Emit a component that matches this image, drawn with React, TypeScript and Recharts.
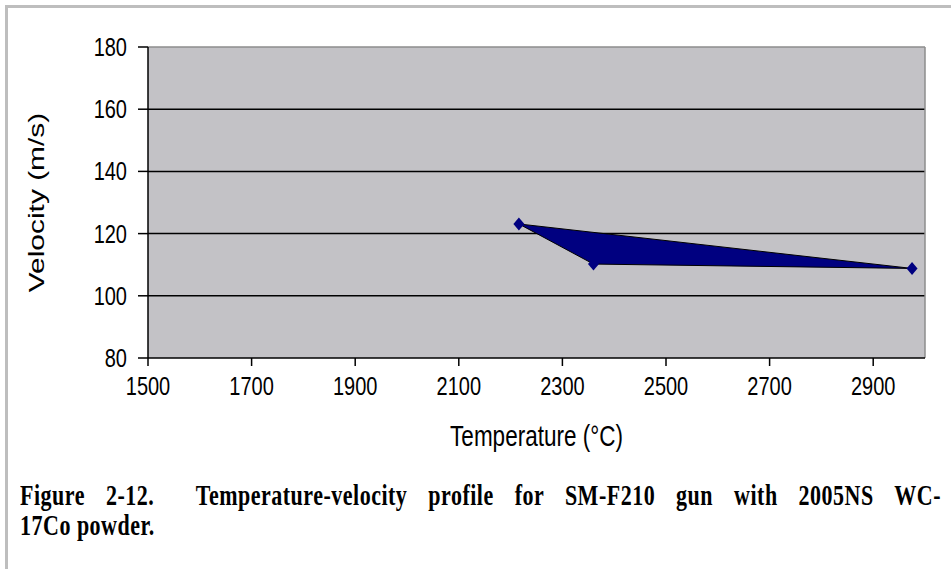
import {
  CartesianGrid,
  Polygon,
  ReferenceLine,
  Scatter,
  ScatterChart,
  XAxis,
  YAxis,
} from 'recharts';

const temperatures = [2216, 2360, 2975];
const velocities = [123.1, 110.2, 108.8];
const xTicks = [1500, 1700, 1900, 2100, 2300, 2500, 2700, 2900];
const yTicks = [80, 100, 120, 140, 160, 180];
const gridValues = [100, 120, 140, 160];

const data = temperatures.map((t, i) => ({ t, v: velocities[i] }));

const sans = '"Liberation Sans", Arial, sans-serif';
const serif = '"Liberation Serif", "Times New Roman", serif';
const navy = '#000080';
// the source picture is stretched vertically, so text is drawn taller than wide
const stretch = 1.33;

const XTick = ({ x, y, payload }: any) => (
  <text transform={`translate(${x},${y + 29}) scale(1,${stretch})`} textAnchor="middle" fontSize={20} fontFamily={sans} fill="#000">
    {payload.value}
  </text>
);

const YTick = ({ x, y, payload }: any) => (
  <text transform={`translate(${x},${y + 9}) scale(1,${stretch})`} textAnchor="end" fontSize={20} fontFamily={sans} fill="#000">
    {payload.value}
  </text>
);

const XTitle = ({ viewBox }: any) => {
  const vb = viewBox ?? { x: 148, y: 358, width: 777, height: 90 };
  return (
    <text
      transform={`translate(${vb.x + vb.width / 2},${vb.y + 88}) scale(1,${stretch})`}
      textAnchor="middle"
      fontSize={22.5}
      fontFamily={sans}
      fill="#000"
    >
      Temperature (°C)
    </text>
  );
};

const YTitle = ({ viewBox }: any) => {
  const vb = viewBox ?? { x: 88, y: 47, width: 60, height: 311 };
  const cx = vb.x - 44;
  const cy = vb.y + vb.height / 2;
  return (
    <text
      transform={`translate(${cx},${cy}) scale(1,${stretch}) rotate(-90)`}
      textAnchor="middle"
      fontSize={22.5}
      fontFamily={sans}
      fill="#000"
    >
      Velocity (m/s)
    </text>
  );
};

// Excel style diamond marker
const Diamond = ({ cx, cy }: any) => (
  <path d={`M${cx},${cy - 6.5}L${cx + 5.5},${cy}L${cx},${cy + 6.5}L${cx - 5.5},${cy}Z`} fill={navy} />
);

const captionBase: React.CSSProperties = {
  position: 'absolute',
  left: 20,
  width: 921,
  fontFamily: serif,
  fontWeight: 'bold',
  fontSize: 22,
  letterSpacing: 0.5,
  lineHeight: '22px',
  whiteSpace: 'pre-wrap',
  transform: `scaleY(${stretch})`,
  transformOrigin: 'top left',
  color: '#000',
};

export default function App() {
  return (
    <div style={{ position: 'absolute', left: 0, top: 0, width: 951, height: 569, background: '#fff', overflow: 'hidden' }}>
      <div style={{ position: 'absolute', left: 5, top: 5, width: 946, height: 3, background: '#bebebe' }} />
      <div style={{ position: 'absolute', left: 5, top: 5, width: 3, height: 564, background: '#bebebe' }} />
      <div style={{ position: 'absolute', left: 0, top: 0 }}>
        <ScatterChart width={951} height={569} margin={{ top: 47, right: 26, bottom: 121, left: 88 }}>
          <CartesianGrid vertical={false} horizontalValues={gridValues} stroke="#000" strokeWidth={1.5} fill="#c3c2c6" fillOpacity={1} />
          <ReferenceLine y={180} stroke="#8c8c8c" strokeWidth={1.5} />
          <ReferenceLine x={3000} stroke="#8c8c8c" strokeWidth={1.5} />
          <XAxis
            type="number"
            dataKey="t"
            domain={[1500, 3000]}
            ticks={xTicks}
            interval={0}
            height={90}
            tickSize={8}
            tickMargin={0}
            axisLine={{ stroke: '#000', strokeWidth: 1.5 }}
            tickLine={{ stroke: '#000', strokeWidth: 1.5 }}
            tick={XTick}
            label={{ content: XTitle }}
          />
          <YAxis
            type="number"
            dataKey="v"
            domain={[80, 180]}
            ticks={yTicks}
            interval={0}
            width={60}
            tickSize={10}
            tickMargin={11}
            axisLine={{ stroke: '#000', strokeWidth: 1.5 }}
            tickLine={{ stroke: '#000', strokeWidth: 1.5 }}
            tick={YTick}
            label={{ content: YTitle }}
          />
          <Scatter
            data={data}
            fill={navy}
            shape={Diamond}
            lineType="joint"
            line={(p: any) => <Polygon points={p.points} fill={navy} stroke="#000" strokeWidth={1} />}
            isAnimationActive={false}
          />
        </ScatterChart>
      </div>
      <div style={{ ...captionBase, top: 481, textAlign: 'justify', textAlignLast: 'justify' }}>
        {'Figure 2-12.  Temperature-velocity profile for SM-F210 gun with 2005NS WC-'}
      </div>
      <div style={{ ...captionBase, top: 511 }}>17Co powder.</div>
    </div>
  );
}
